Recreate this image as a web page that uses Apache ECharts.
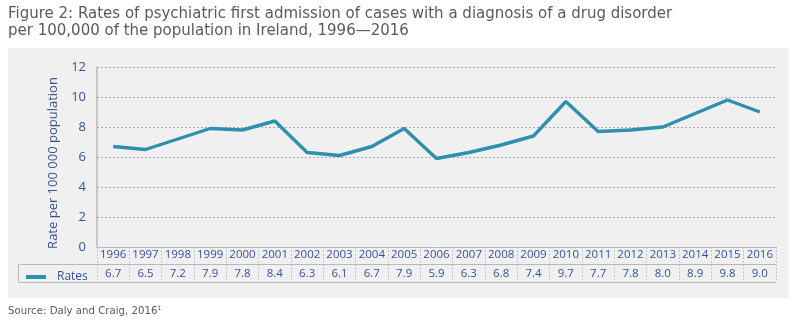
<!DOCTYPE html>
<html>
<head>
<meta charset="utf-8">
<script src="https://cdn.jsdelivr.net/npm/echarts@6/dist/echarts.min.js"></script>
<style>
  html, body { margin: 0; padding: 0; background: #ffffff; }
  #chart { width: 800px; height: 322px; }
</style>
</head>
<body>
<div id="chart"></div>
<script>
// Psychiatric first admissions with a drug disorder diagnosis, rate per 100 000
const years = ['1996','1997','1998','1999','2000','2001','2002','2003','2004','2005','2006',
               '2007','2008','2009','2010','2011','2012','2013','2014','2015','2016'];
const rates = [6.7, 6.5, 7.2, 7.9, 7.8, 8.4, 6.3, 6.1, 6.7, 7.9, 5.9,
               6.3, 6.8, 7.4, 9.7, 7.7, 7.8, 8.0, 8.9, 9.8, 9.0];
const yTicks = { min: 0, max: 12, interval: 2 };

const FONT = '"Open Sans", "Noto Sans", sans-serif';
const WIDE_FONT = '"DejaVu Sans", "Open Sans", sans-serif';
const BLUE_TEXT = '#34529a';
const LINE_COLOR = '#2f8fae';
const RULE = '#b9b9b9';

const chart = echarts.init(document.getElementById('chart'), null, { renderer: 'canvas' });

const option = {
  backgroundColor: '#ffffff',
  animation: false,
  textStyle: { fontFamily: FONT },
  title: [
    {
      text: 'Figure 2: Rates of psychiatric first admission of cases with a diagnosis of a drug disorder\nper 100,000 of the population in Ireland, 1996\u20142016',
      left: 3, top: 1,
      textStyle: { fontFamily: WIDE_FONT, fontSize: 15, fontWeight: 'normal', color: '#5a5a5a', lineHeight: 17 }
    },
    {
      text: '{t|Source: Daly and Craig, 2016}{s|1}',
      left: 3, top: 300,
      textStyle: {
        rich: {
          t: { fontFamily: WIDE_FONT, fontSize: 10.2, fontWeight: 'normal', color: '#5a5a5a' },
          s: { fontFamily: WIDE_FONT, fontSize: 6, fontWeight: 'normal', color: '#5a5a5a', verticalAlign: 'top', padding: [0, 0, 6, 0] }
        }
      }
    }
  ],
  legend: {
    data: ['Rates'],
    left: 21, top: 266,
    itemWidth: 20, itemHeight: 4,
    icon: 'rect',
    textStyle: { fontFamily: FONT, fontSize: 12, color: BLUE_TEXT, padding: [0, 0, 0, 6] }
  },
  grid: { left: 97, right: 24, top: 67, bottom: 75, containLabel: false },
  xAxis: {
    type: 'category',
    data: years,
    boundaryGap: true,
    axisLine: { show: true, lineStyle: { color: RULE, width: 1 } },
    axisTick: {
      show: true, interval: 0, length: 35, inside: false,
      lineStyle: { color: RULE, type: [1.5, 2], width: 1 }
    },
    axisLabel: {
      interval: 0, margin: 0,
      formatter: function (v, i) {
        return '{y|' + v + '}\n{v|' + rates[i].toFixed(1) + '}';
      },
      rich: {
        y: { fontFamily: FONT, fontSize: 11.5, color: BLUE_TEXT, lineHeight: 16 },
        v: { fontFamily: FONT, fontSize: 11.5, color: BLUE_TEXT, lineHeight: 22 }
      }
    }
  },
  yAxis: {
    type: 'value',
    min: yTicks.min, max: yTicks.max, interval: yTicks.interval,
    name: 'Rate per 100 000 population',
    nameLocation: 'middle',
    nameGap: 23,
    nameRotate: 90,
    nameTextStyle: { fontFamily: FONT, fontSize: 13, color: BLUE_TEXT, padding: [0, 12, 0, 0] },
    axisLine: { show: true, lineStyle: { color: RULE, width: 1.5 } },
    axisTick: { show: false },
    axisLabel: { fontFamily: FONT, fontSize: 13, color: BLUE_TEXT, margin: 11 },
    splitLine: { show: true, lineStyle: { color: '#a8a8a8', type: [2, 2], width: 1 } }
  },
  series: [{
    name: 'Rates',
    type: 'line',
    data: rates,
    symbol: 'none',
    lineStyle: { color: LINE_COLOR, width: 3.4 },
    itemStyle: { color: LINE_COLOR },
    z: 5
  }],
  graphic: [
    // panel background
    {
      type: 'rect', z: -100, silent: true,
      shape: { x: 8, y: 48, width: 781, height: 250 },
      style: { fill: '#f0f0f0' }
    },
    // data table frame
    {
      type: 'polyline', z: 100, silent: true,
      shape: { points: [[776, 264.5], [18.5, 264.5], [18.5, 282.5], [776, 282.5]] },
      style: { stroke: RULE, lineWidth: 1, fill: null }
    }
  ]
};

chart.setOption(option);
</script>
</body>
</html>
